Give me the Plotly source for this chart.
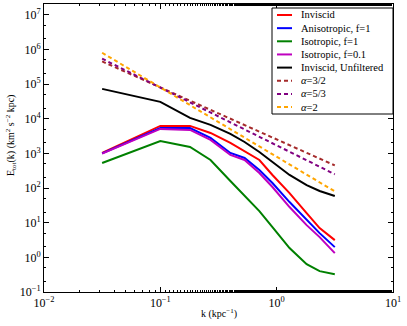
import plotly.graph_objects as go

# wavenumber bins (kpc^-1)
k = [0.0316, 0.1, 0.18, 0.27, 0.4, 0.53, 0.71, 0.92, 1.29, 1.81, 2.34, 3.16]

# energy spectra (km^2 s^-2 kpc)
e_inviscid = [1030, 6200, 6200, 3890, 2000, 1170, 644, 238, 71.6, 18.9, 6.98, 3.14]
e_aniso_f1 = [1000, 5400, 5400, 2790, 1030, 736, 331, 140, 39.4, 11.9, 5.0, 1.97]
e_iso_f1 = [528, 2280, 1530, 644, 159, 58.7, 21.6, 7.46, 1.85, 0.635, 0.40, 0.327]
e_iso_f01 = [980, 5070, 4740, 2440, 900, 644, 272, 107, 28.3, 8.5, 3.84, 1.32]
e_unfiltered = [72600, 30600, 10550, 6620, 3640, 2130, 1100, 563, 238, 122, 82, 58.7]

# reference power laws, endpoints only
k_ref = [0.0316, 3.16]
e_a32 = [4.5e5, 450]
e_a53 = [5.4e5, 250]
e_a2 = [8.0e5, 80]

x_exps = [-2, -1, 0, 1]
y_exps = [-1, 0, 1, 2, 3, 4, 5, 6, 7]

solid = [
    ("Inviscid", e_inviscid, "#ff0000"),
    ("Anisotropic, f=1", e_aniso_f1, "#0000ff"),
    ("Isotropic, f=1", e_iso_f1, "#008000"),
    ("Isotropic, f=0.1", e_iso_f01, "#bf00bf"),
    ("Inviscid, Unfiltered", e_unfiltered, "#000000"),
]
dashed = [
    ("<i>α</i>=3/2", e_a32, "#a52a2a"),
    ("<i>α</i>=5/3", e_a53, "#800080"),
    ("<i>α</i>=2", e_a2, "#ffa500"),
]
DASH = "4px,3px"

fig = go.Figure()
for name, vals, col in solid:
    fig.add_trace(go.Scatter(x=k, y=vals, name=name, mode="lines",
                             line=dict(color=col, width=2)))
for name, vals, col in dashed:
    fig.add_trace(go.Scatter(x=k_ref, y=vals, name=name, mode="lines",
                             line=dict(color=col, width=2, dash=DASH)))

serif = "Liberation Serif"
axis = dict(type="log", showgrid=False, automargin=False,
            showline=True, linecolor="black", linewidth=1, mirror="ticks",
            ticks="inside", ticklen=5, tickcolor="black", zeroline=False,
            tickfont=dict(family=serif, size=12, color="black"),
            minor=dict(ticks="inside", ticklen=2, tickcolor="black", showgrid=False))

W, H = 407, 326
ML, MR, MT, MB = 44, 14, 4, 34
pw, ph = W - ML - MR, H - MT - MB

fig.update_layout(
    width=W, height=H,
    margin=dict(l=ML, r=MR, t=MT, b=MB),
    paper_bgcolor="white", plot_bgcolor="white",
    font=dict(family=serif, size=11, color="black"),
    xaxis=dict(axis, range=[-2, 1],
               tickvals=[10 ** e for e in x_exps],
               ticktext=[f"10<sup>{e}</sup>".replace("-", "−") for e in x_exps]),
    yaxis=dict(axis, range=[-1, 7.31],
               tickvals=[10 ** e for e in y_exps],
               ticktext=[f"10<sup>{e}</sup>".replace("-", "−") for e in y_exps]),
    showlegend=False,
)

# matplotlib-style legend box, drawn in pixel terms of the plot area
def px_x(p):
    return (p - ML) / pw


def px_y(p):
    return 1 - (p - MT) / ph


fig.add_shape(type="rect", xref="paper", yref="paper",
              x0=px_x(272), x1=px_x(393), y0=px_y(114), y1=px_y(8),
              line=dict(color="black", width=1), fillcolor="white", layer="above")
entries = [(n, c, "solid") for n, _, c in solid] + [(n, c, DASH) for n, _, c in dashed]
for i, (name, col, dash) in enumerate(entries):
    yy = px_y(15 + i * 13.15)
    fig.add_shape(type="line", xref="paper", yref="paper",
                  x0=px_x(277), x1=px_x(292), y0=yy, y1=yy, layer="above",
                  line=dict(color=col, width=2, dash=dash))
    fig.add_annotation(text=name, xref="paper", yref="paper", x=px_x(299), y=yy,
                       xanchor="left", yanchor="middle", showarrow=False,
                       font=dict(family=serif, size=10.5))

fig.add_annotation(text="k (kpc<sup>−1</sup>)", xref="paper", yref="paper",
                   x=0.5, y=px_y(313), xanchor="center", yanchor="middle",
                   showarrow=False, font=dict(family=serif, size=10))
fig.add_annotation(text="E<sub>tot</sub>(k) (km<sup>2</sup> s<sup>−2</sup> kpc)",
                   xref="paper", yref="paper", x=px_x(11), y=px_y(136),
                   xanchor="center", yanchor="middle", textangle=-90,
                   showarrow=False, font=dict(family=serif, size=10))

fig.write_html("out.html", config={"displayModeBar": False},
               post_script="document.body.style.margin='0px';")
